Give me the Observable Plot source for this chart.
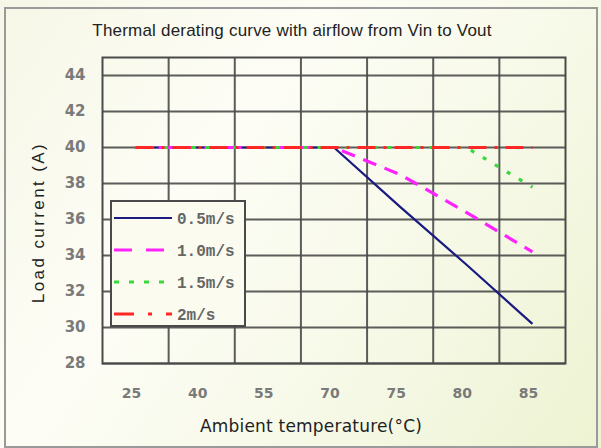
<!DOCTYPE html>
<html>
<head>
<meta charset="utf-8">
<script src="https://cdn.jsdelivr.net/npm/d3@7"></script>
<script src="https://cdn.jsdelivr.net/npm/@observablehq/plot@0.6"></script>
<style>
  html, body { margin: 0; padding: 0; background: #fff; }
  #wrap { position: relative; width: 601px; height: 448px; overflow: hidden;
    background: linear-gradient(125deg, #f6f7e6 0%, #fdfdf6 35%, #f7f9e8 65%, #edf3d2 100%); }
  #border { position: absolute; left: 4px; top: 7px; right: 3px; bottom: 0px; border: 2px solid #9a9a9a; box-sizing: border-box; pointer-events: none; }
  #title { position: absolute; top: 21px; left: 0; width: 584px; text-align: center;
    font-family: "Liberation Sans", Arial, sans-serif; font-size: 17px; color: #222; letter-spacing: 0.2px; }
  #chart { position: absolute; left: 0; top: 0; }
  #legend { position: absolute; left: 110px; top: 200px; }
</style>
</head>
<body>
<div id="wrap">
  <div id="border"></div>
  <div id="chart"></div>
  <div id="title"></div>
  <div id="legend"></div>
</div>
<script>
// ---- data ----
const titleText = "Thermal derating curve with airflow from Vin to Vout";
const xLabel = "Ambient temperature(°C)";
const yLabel = "Load current (A)";
const temps = ["25", "40", "55", "70", "75", "80", "85"];
const yTicks = [28, 30, 32, 34, 36, 38, 40, 42, 44];
const seriesNames = ["0.5m/s", "1.0m/s", "1.5m/s", "2m/s"];
const s05 = [40, 40, 40, 40, 36.7, 33.5, 30.2];
const s10 = [40, 40, 40, 40, 38.5, 36.4, 34.2];
const s15 = [40, 40, 40, 40, 40, 40, 37.8];
const s20 = [40, 40, 40, 40, 40, 40, 40];

const seriesValues = [s05, s10, s15, s20];
const styles = [
  {stroke: "#1a1a80", strokeWidth: 2.2, dash: null, legDash: null},
  {stroke: "#ff22ff", strokeWidth: 3.2, dash: "14,9", legDash: "18,14"},
  {stroke: "#3ad83a", strokeWidth: 3.2, dash: "4,10", legDash: "5,10"},
  {stroke: "#ff2626", strokeWidth: 3, dash: "18,8,3,8", legDash: "20,14,4,14"}
];

const rows = [];
seriesNames.forEach((name, si) => {
  seriesValues[si].forEach((v, i) => rows.push({series: name, idx: i + 0.5, temp: temps[i], value: v}));
});

document.getElementById("title").textContent = titleText;

const lineMarks = seriesNames.map((name, si) =>
  Plot.line(rows.filter(r => r.series === name), {
    x: "idx", y: "value",
    stroke: styles[si].stroke, strokeWidth: styles[si].strokeWidth,
    strokeDasharray: styles[si].dash, strokeLinecap: "butt"
  })
);

const tickFont = "DejaVu Sans, sans-serif";
const chart = Plot.plot({
  width: 601, height: 448,
  marginLeft: 102, marginRight: 36, marginTop: 57, marginBottom: 85,
  style: {background: "transparent", overflow: "visible"},
  x: {domain: [0, temps.length]},
  y: {domain: [28, 45]},
  marks: [
    Plot.ruleY(yTicks, {stroke: "#4a4a4a", strokeWidth: 2.2, strokeOpacity: 0.9}),
    Plot.ruleX(d3.range(1, temps.length), {stroke: "#4a4a4a", strokeWidth: 2, strokeOpacity: 0.9}),
    Plot.frame({stroke: "#4a4a4a", strokeWidth: 2}),
    ...lineMarks,
    Plot.axisX({ticks: temps.map((t, i) => i + 0.5), tickFormat: v => temps[Math.floor(v)], tickSize: 0, tickPadding: 25, label: null,
      dx: -4, fontSize: 14, fontWeight: "bold", fill: "#7a7a7a", fontFamily: tickFont}),
    Plot.axisY({ticks: yTicks, tickSize: 0, tickPadding: 17, label: null,
      fontSize: 15, fontWeight: "bold", fill: "#7a7a7a", fontFamily: tickFont}),
    Plot.text([yLabel], {text: d => d, frameAnchor: "left", textAnchor: "middle", dx: -64, dy: 12, rotate: -90,
      fontSize: 17, fill: "#222", fontFamily: "Liberation Sans", className: "ylab"}),
    Plot.text([xLabel], {text: d => d, frameAnchor: "bottom", textAnchor: "middle", dy: 68, dx: -23,
      fontSize: 17, fill: "#222", fontFamily: "DejaVu Sans", className: "xlab"})
  ]
});
d3.select(chart).selectAll(".ylab text").attr("letter-spacing", "2.4px");
d3.select(chart).selectAll(".xlab text").attr("letter-spacing", "0.2px");
document.getElementById("chart").appendChild(chart);

// ---- legend ----
const lw = 134, lh = 125;
const leg = d3.select("#legend").append("svg").attr("width", lw + 2).attr("height", lh + 2);
leg.append("rect").attr("x", 1).attr("y", 1).attr("width", lw).attr("height", lh)
  .attr("fill", "#fbfcef").attr("stroke", "#4a4a4a").attr("stroke-width", 2);
seriesNames.forEach((name, si) => {
  const cy = 18 + si * 32;
  leg.append("line").attr("x1", 4).attr("x2", 62).attr("y1", cy).attr("y2", cy)
    .attr("stroke", styles[si].stroke).attr("stroke-width", styles[si].strokeWidth)
    .attr("stroke-dasharray", styles[si].legDash);
  leg.append("text").attr("x", 67).attr("y", cy + 6).text(name)
    .attr("font-family", "Liberation Mono, DejaVu Sans Mono, monospace").attr("font-size", 16)
    .attr("font-weight", "bold").attr("fill", "#666");
});
</script>
</body>
</html>
